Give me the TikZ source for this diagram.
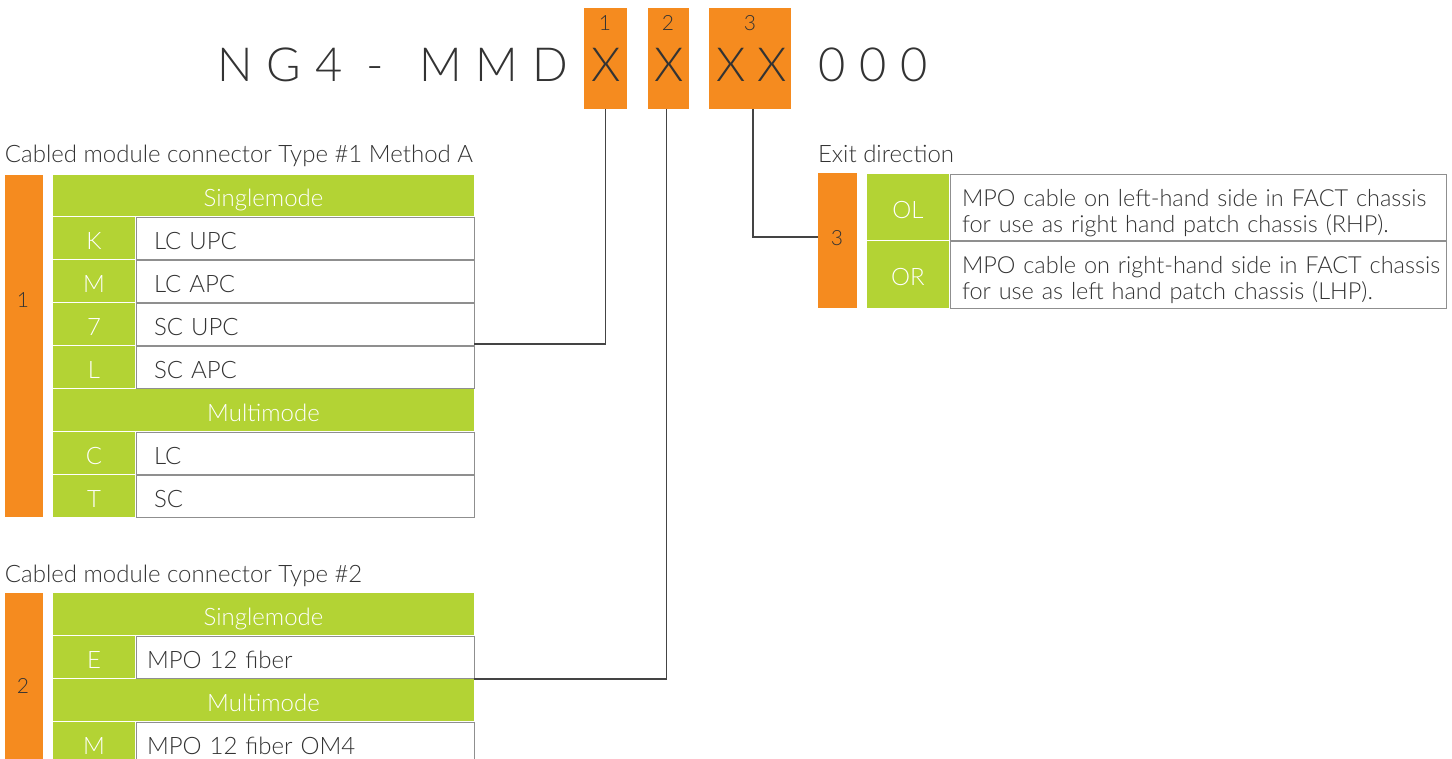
\documentclass[tikz,border=0pt]{standalone}
\usepackage{fontspec}
\setmainfont{Lato Light}
\definecolor{og}{HTML}{F58B1F}
\definecolor{gr}{HTML}{B3D334}
\definecolor{tx}{HTML}{333333}
\definecolor{ln}{HTML}{444444}
% two-line description, lowered slightly inside its row
\newcommand{\twoline}[2]{\raisebox{-7pt}[\height][\depth]{\begin{tabular}{@{}l@{}}#1\\#2\end{tabular}}}
\begin{document}
\begin{tikzpicture}[x=1pt,y=-1pt,
  every node/.style={inner sep=0pt, outer sep=0pt, text=tx},
  orng/.style={fill=og, anchor=north west},
  grn/.style={fill=gr, anchor=north west, text=white, font=\fontsize{24}{26}\selectfont, text height=22.5pt, text depth=0pt},
  cell/.style={fill=white, draw=ln!60, line width=0.8pt, anchor=north west, align=left, font=\fontsize{24}{26}\selectfont, text height=22.5pt, text depth=0pt},
  wide/.style={fill=white, draw=ln!60, line width=0.8pt, anchor=north west, align=left, font=\fontsize{23.5}{26}\selectfont},
  head/.style={font=\fontsize{24}{26}\selectfont, anchor=base west},
  big/.style={font=\fontsize{47}{50}\selectfont\addfontfeatures{LetterSpace=30}},
  bigx/.style={font=\fontsize{47}{50}\selectfont},
  digit/.style={font=\fontsize{21}{24}\selectfont},
  conn/.style={draw=ln, line width=1.2pt}
]
\useasboundingbox (0,0) rectangle (1452,759);

% ---- part number header
\node[big, anchor=base west] (ng) at (217,82) {NG4};
\node[big, anchor=base] (dash) at (375,82) {-};
\node[big, anchor=base west] (mmd) at (419,82) {MMD};
\node[orng, minimum width=43, minimum height=101] (x1) at (584,8) {};
\node[orng, minimum width=41, minimum height=101] (x2) at (648,8) {};
\node[orng, minimum width=82, minimum height=101] (x3) at (709,8) {};
\node[digit] (d1) at (605,23) {1};
\node[digit] (d2) at (668,23) {2};
\node[digit] (d3) at (750,23) {3};
\node[bigx, anchor=base] (xa) at (606,82) {X};
\node[bigx, anchor=base] (xb) at (669,82) {X};
\node[bigx, anchor=base] (xc) at (752,82) {X\kern12ptX};
\node[big, anchor=base west] (zz) at (818,82) {000};

% ---- connector type 1
\node[head] (h1) at (5,163) {Cabled module connector Type \#1 Method A};
\node[orng, minimum width=38, minimum height=342] (o1) at (5,175) {};
\node[digit] (n1) at (23,300) {1};
\node[grn, minimum width=421, minimum height=41] (t1sm) at (53,175) {Singlemode};
\node[grn, minimum width=82, minimum height=42] (t1K) at (53,217) {K};
\node[cell, minimum height=42, text width=302, inner xsep=18] (c1K) at (136,217) {LC UPC};
\node[grn, minimum width=82, minimum height=42] (t1M) at (53,260) {M};
\node[cell, minimum height=42, text width=302, inner xsep=18] (c1M) at (136,260) {LC APC};
\node[grn, minimum width=82, minimum height=42] (t17) at (53,303) {7};
\node[cell, minimum height=42, text width=302, inner xsep=18] (c17) at (136,303) {SC UPC};
\node[grn, minimum width=82, minimum height=42] (t1L) at (53,346) {L};
\node[cell, minimum height=42, text width=302, inner xsep=18] (c1L) at (136,346) {SC APC};
\node[grn, minimum width=421, minimum height=42] (t1mm) at (53,389) {Multimode};
\node[grn, minimum width=82, minimum height=42] (t1C) at (53,432) {C};
\node[cell, minimum height=42, text width=302, inner xsep=18] (c1C) at (136,432) {LC};
\node[grn, minimum width=82, minimum height=42] (t1T) at (53,475) {T};
\node[cell, minimum height=42, text width=302, inner xsep=18] (c1T) at (136,475) {SC};

% ---- connector type 2
\node[head] (h2) at (5,582) {Cabled module connector Type \#2};
\node[orng, minimum width=38, minimum height=180] (o2) at (5,593) {};
\node[digit] (n2) at (23,686) {2};
\node[grn, minimum width=421, minimum height=42] (t2sm) at (53,593) {Singlemode};
\node[grn, minimum width=82, minimum height=42] (t2E) at (53,636) {E};
\node[cell, minimum height=42, text width=316, inner xsep=11] (c2E) at (136,636) {MPO 12 fiber};
\node[grn, minimum width=421, minimum height=42] (t2mm) at (53,679) {Multimode};
\node[grn, minimum width=82, minimum height=42] (t2M) at (53,722) {M};
\node[cell, minimum height=42, text width=316, inner xsep=11] (c2M) at (136,722) {MPO 12 fiber OM4};

% ---- exit direction
\node[head] (h3) at (818,163) {Exit direction};
\node[orng, minimum width=39, minimum height=135] (o3) at (818,173) {};
\node[digit] (n3) at (837,238) {3};
\node[grn, minimum width=82, minimum height=66] (tOL) at (867,174) {OL};
\node[wide, minimum height=66, text width=472, inner xsep=12] (cOL) at (950,174)
  {\twoline{MPO cable on left-hand side in FACT chassis}{for use as right hand patch chassis (RHP).}};
\node[grn, minimum width=82, minimum height=67] (tOR) at (867,241) {OR};
\node[wide, minimum height=67, text width=472, inner xsep=12] (cOR) at (950,241)
  {\twoline{MPO cable on right-hand side in FACT chassis}{for use as left hand patch chassis (LHP).}};

% ---- leader lines
\draw[conn] (x1.south) |- ([yshift=2pt]c1L.north east);
\draw[conn] ([xshift=-2pt]x2.south) |- (t2mm.north east);
\draw[conn] ([xshift=3pt]x3.south) |- ([yshift=3.5pt]o3.west);
\end{tikzpicture}
\end{document}
